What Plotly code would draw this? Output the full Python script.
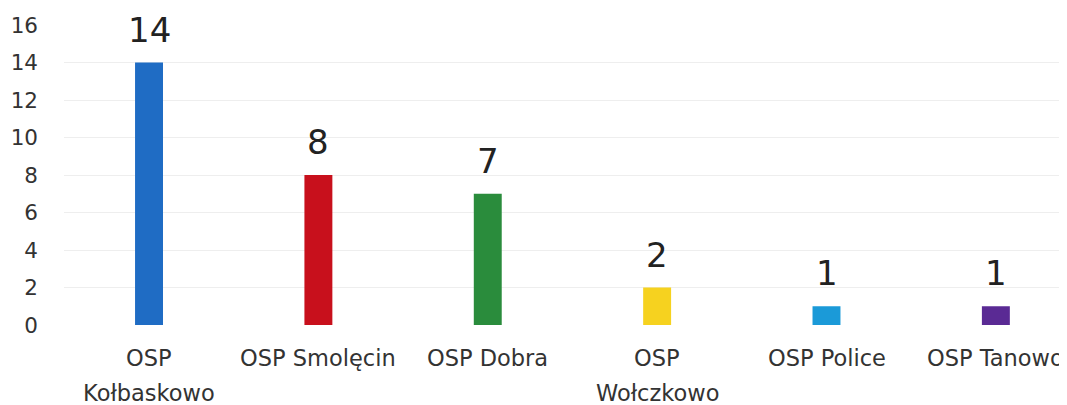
import plotly.graph_objects as go

categories = ["OSP<br>Kołbaskowo", "OSP Smolęcin", "OSP Dobra", "OSP<br>Wołczkowo", "OSP Police", "OSP Tanowo"]
values = [14, 8, 7, 2, 1, 1]
colors = ["#1f6cc4", "#c8101c", "#2a8c3c", "#f6d21f", "#1b9ad8", "#5a2a94"]
yticks = [0, 2, 4, 6, 8, 10, 12, 14, 16]

FONT = "DejaVu Sans"
x = list(range(len(categories)))
fig = go.Figure(go.Bar(
    x=x, y=values, width=0.165,
    marker=dict(color=colors, line=dict(width=0)),
    cliponaxis=False,
))

annotations = []
for i, v in enumerate(values):
    annotations.append(dict(
        x=i, y=v, xref="x", yref="y", text=str(v), showarrow=False,
        xanchor="center", yanchor="middle", yshift=33,
        font=dict(family=FONT, size=34, color="#222222"),
    ))
for i, cat in enumerate(categories):
    for j, line in enumerate(cat.split("<br>")):
        annotations.append(dict(
            x=i, y=0, xref="x", yref="y", text=line, showarrow=False,
            xanchor="center", yanchor="middle", yshift=-33 - 35 * j,
            font=dict(family=FONT, size=22.5, color="#333333"),
        ))

fig.update_layout(
    width=1067, height=405,
    margin=dict(l=56, r=8, t=17, b=88, autoexpand=False),
    paper_bgcolor="white", plot_bgcolor="white",
    font=dict(family=FONT, size=21, color="#333333"),
    showlegend=False,
    annotations=annotations,
    xaxis=dict(range=[-0.502, 5.42], tickvals=x, showticklabels=False, automargin=False,
               showgrid=False, zeroline=False, showline=False, ticks=""),
    yaxis=dict(range=[0, 16], tickvals=yticks, showgrid=True, gridcolor="#eeeeee",
               gridwidth=1, zeroline=False, showline=False, ticks="", automargin=False,
               tickfont=dict(size=21.5, color="#333333", family=FONT), ticklabelstandoff=25),
)
fig.write_html("out.html")
